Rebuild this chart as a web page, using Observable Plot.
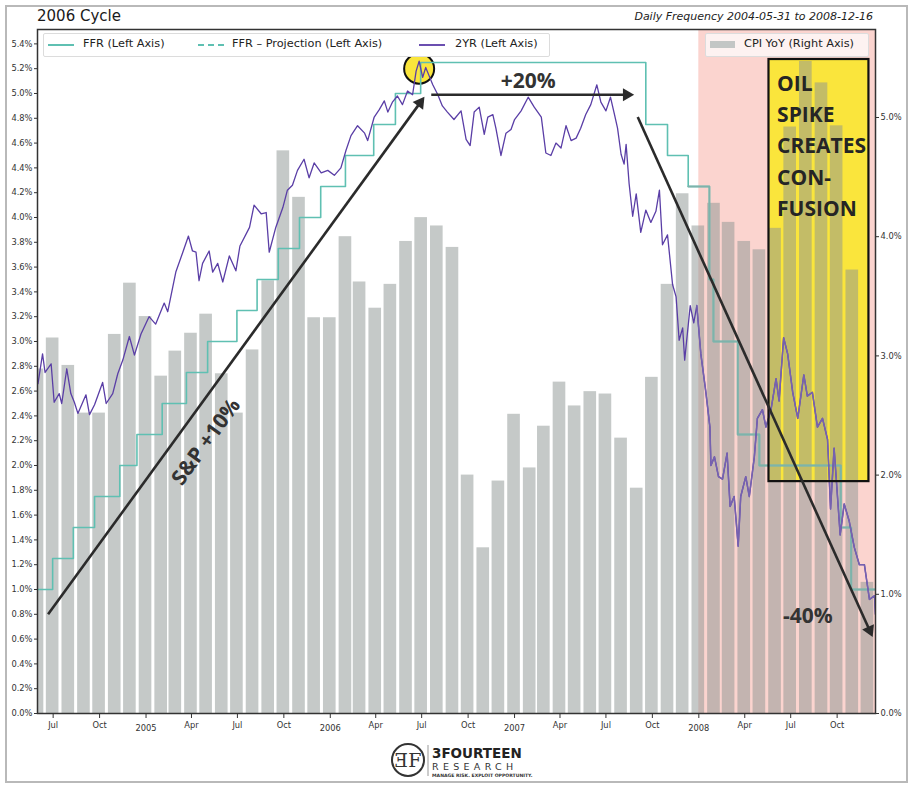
<!DOCTYPE html>
<html><head><meta charset="utf-8">
<script src="https://cdn.jsdelivr.net/npm/d3@7"></script>
<script src="https://cdn.jsdelivr.net/npm/@observablehq/plot@0.6"></script>
<style>
body{margin:0;background:#fff;}
#wrap{position:relative;width:919px;height:795px;overflow:hidden;font-family:"DejaVu Sans",sans-serif;color:#222;}
#wrap > svg{position:absolute;left:0;top:0;}
.abs{position:absolute;white-space:nowrap;}
#border{left:5px;top:5px;width:899px;height:774px;border:2px solid #b9b9b9;}
#title{left:37px;top:7px;font-size:15px;color:#1a1a1a;}
#sub{right:46px;top:10px;font-size:11px;font-style:italic;color:#222;}
.leg{top:33px;height:22px;border:1px solid #dcdcdc;border-radius:2px;font-size:11.3px;color:#222;}
.leg span{position:absolute;top:3px;}
.sw{position:absolute;top:10px;width:26px;height:0;border-top:2px solid #5fc0b2;}
#logo{left:388px;top:740px;width:160px;height:42px;}
</style></head><body>
<div id="wrap"></div>
<script>
// ---------------- data ----------------
const cpiMonths = [
 "2004-05","2004-06","2004-07","2004-08","2004-09","2004-10","2004-11","2004-12",
 "2005-01","2005-02","2005-03","2005-04","2005-05","2005-06","2005-07","2005-08","2005-09","2005-10","2005-11","2005-12",
 "2006-01","2006-02","2006-03","2006-04","2006-05","2006-06","2006-07","2006-08","2006-09","2006-10","2006-11","2006-12",
 "2007-01","2007-02","2007-03","2007-04","2007-05","2007-06","2007-07","2007-08","2007-09","2007-10","2007-11","2007-12",
 "2008-01","2008-02","2008-03","2008-04","2008-05","2008-06","2008-07","2008-08","2008-09","2008-10","2008-11"];
const cpiValues = [
 2.89,3.15,2.92,2.52,2.52,3.18,3.61,3.33,
 2.83,3.04,3.19,3.35,2.85,2.52,3.05,3.63,4.72,4.33,3.32,3.32,
 4.00,3.62,3.40,3.60,3.96,4.16,4.09,3.91,2.00,1.39,1.95,2.51,
 2.06,2.41,2.78,2.58,2.70,2.68,2.31,1.89,2.82,3.60,4.36,4.09,
 4.28,4.12,3.96,3.89,4.07,4.92,5.47,5.29,4.93,3.72,1.10];

const ffrDates = ["2004-05-31","2004-06-30","2004-08-10","2004-09-21","2004-11-10","2004-12-14",
 "2005-02-02","2005-03-22","2005-05-03","2005-06-30","2005-08-09","2005-09-20","2005-11-01","2005-12-13",
 "2006-01-31","2006-03-28","2006-05-10","2006-06-29","2007-09-18","2007-10-31","2007-12-11",
 "2008-01-22","2008-01-30","2008-03-18","2008-04-30","2008-10-08","2008-10-29","2008-12-16"];
const ffrValues = [1.00,1.25,1.50,1.75,2.00,2.25,2.50,2.75,3.00,3.25,3.50,3.75,4.00,4.25,
 4.50,4.75,5.00,5.25,4.75,4.50,4.25,3.50,3.00,2.25,2.00,1.50,1.00,1.00];

const y2Dates = [
 "2004-06-01","2004-06-10","2004-06-15","2004-06-27","2004-07-03","2004-07-13","2004-07-18","2004-07-28","2004-08-05","2004-08-12","2004-08-19","2004-09-04","2004-09-11","2004-09-21","2004-10-07","2004-10-14","2004-10-27","2004-11-06","2004-11-16","2004-11-29","2004-12-09","2004-12-22",
 "2005-01-07","2005-01-20","2005-02-06","2005-02-13","2005-02-23","2005-03-01","2005-03-14","2005-03-26","2005-04-03","2005-04-10","2005-04-16","2005-04-23","2005-05-06","2005-05-13","2005-05-23","2005-06-02","2005-06-15","2005-06-28","2005-07-06","2005-07-25","2005-08-03","2005-08-17","2005-08-27","2005-09-02","2005-09-15","2005-09-29","2005-10-08","2005-10-18","2005-10-28","2005-11-10","2005-11-20","2005-11-30","2005-12-14","2005-12-27",
 "2006-01-09","2006-01-22","2006-02-01","2006-02-11","2006-02-24","2006-03-10","2006-03-16","2006-03-29","2006-04-08","2006-04-18","2006-04-25","2006-05-04","2006-05-14","2006-05-24","2006-06-03","2006-06-13","2006-06-20","2006-06-26","2006-07-03","2006-07-09","2006-07-16","2006-07-23","2006-08-02","2006-08-11","2006-08-21","2006-09-03","2006-09-17","2006-09-27","2006-10-05","2006-10-13","2006-10-23","2006-11-02","2006-11-09","2006-11-19","2006-11-25","2006-12-05","2006-12-15","2006-12-25",
 "2007-01-01","2007-01-14","2007-01-28","2007-02-09","2007-02-23","2007-03-04","2007-03-14","2007-03-24","2007-04-03","2007-04-13","2007-04-23","2007-05-03","2007-05-12","2007-05-22","2007-06-01","2007-06-13","2007-06-21","2007-07-01","2007-07-10","2007-07-18","2007-07-24","2007-07-31","2007-08-06","2007-08-10","2007-08-16","2007-08-23","2007-08-30","2007-09-08","2007-09-18","2007-09-28","2007-10-08","2007-10-15","2007-10-21","2007-10-31","2007-11-10","2007-11-17","2007-11-23","2007-11-30","2007-12-04","2007-12-15","2007-12-22","2007-12-28",
 "2008-01-05","2008-01-15","2008-01-23","2008-01-25","2008-02-01","2008-02-09","2008-02-17","2008-02-26","2008-03-03","2008-03-11","2008-03-19","2008-03-24","2008-04-03","2008-04-10","2008-04-20","2008-04-26","2008-05-06","2008-05-13","2008-05-23","2008-06-02","2008-06-08","2008-06-17","2008-06-25","2008-07-05","2008-07-15","2008-07-27","2008-08-03","2008-08-13","2008-08-23","2008-09-02","2008-09-12","2008-09-18","2008-09-25","2008-10-07","2008-10-15","2008-10-25","2008-11-04","2008-11-14","2008-11-24","2008-12-04","2008-12-14","2008-12-16"];
const y2Values = [
 2.66,2.90,2.75,2.82,2.51,2.58,2.50,2.78,2.58,2.51,2.42,2.57,2.41,2.49,2.67,2.50,2.58,2.74,2.85,3.04,2.89,3.06,
 3.20,3.14,3.31,3.24,3.44,3.56,3.71,3.85,3.73,3.72,3.49,3.63,3.73,3.56,3.63,3.48,3.69,3.57,3.77,3.92,4.10,4.03,4.04,3.72,3.92,4.08,4.22,4.26,4.38,4.47,4.32,4.44,4.36,4.38,
 4.34,4.40,4.54,4.66,4.74,4.68,4.62,4.81,4.87,4.94,4.85,4.93,4.98,4.91,5.02,4.99,5.18,5.26,5.13,5.21,5.14,5.07,4.99,4.90,4.85,4.79,4.86,4.63,4.58,4.85,4.89,4.67,4.81,4.83,4.72,4.50,4.68,4.71,
 4.79,4.86,4.97,4.89,4.81,4.52,4.50,4.60,4.56,4.74,4.62,4.64,4.72,4.83,4.91,5.07,4.93,4.86,4.97,4.83,4.72,4.51,4.43,4.59,4.27,4.01,4.19,3.88,4.06,3.96,4.05,4.22,3.78,3.86,3.46,3.36,3.01,3.11,2.85,3.29,3.15,3.29,
 2.90,2.59,2.31,2.00,2.07,1.91,1.89,2.10,1.67,1.75,1.35,1.75,1.91,1.75,2.07,2.38,2.45,2.31,2.45,2.70,2.52,3.03,2.90,2.59,2.38,2.73,2.56,2.59,2.31,2.38,2.21,1.65,2.14,1.44,1.69,1.55,1.34,1.20,1.20,0.92,0.95,0.80];

const leftTicks = d3.range(0, 28).map(i => i / 5);        // 0.0% .. 5.4%
const rightTicks = [0, 1, 2, 3, 4, 5];                      // 0.0% .. 5.0%
const monthTicks = ["2004-07-01","2004-10-01","2005-04-01","2005-07-01","2005-10-01","2006-04-01","2006-07-01","2006-10-01","2007-04-01","2007-07-01","2007-10-01","2008-04-01","2008-07-01","2008-10-01"];
const yearTicks = ["2005-01-01","2006-01-01","2007-01-01","2008-01-01"];

const shadeRange = ["2008-01-01","2008-12-31"];
const oilBox = {x1:"2008-05-19", x2:"2008-12-03", y1:1.87, y2:5.274};
const peakCircle = {x:"2006-06-26", y:5.20};
const arrowStarts = [["2004-06-21",0.80],["2006-07-20",4.99],["2007-09-02",4.81]];
const arrowEnds   = [["2006-07-06",4.97],["2007-08-25",4.99],["2008-12-10",0.62]];
const labels = [
 {x:"2005-04-30", y:2.19, text:"S&P +10%", rotate:-54},
 {x:"2007-01-28", y:5.10, text:"+20%", rotate:0},
 {x:"2008-08-04", y:0.786, text:"-40%", rotate:0}];
const oilText = {x:"2008-06-04", y:5.20, text:"OIL\nSPIKE\nCREATES\nCON-\nFUSION"};

// ---------------- build ----------------
const parse = d3.utcParse("%Y-%m-%d");
const W = 919, H = 795, mL = 37, mR = 44, mT = 29, mB = 82;
const xDomain = [parse("2004-05-31"), parse("2008-12-16")];
const yMax = 5.516;
const k = 119.2 / 124; // right-axis percent -> left-axis units
const shadeStart = parse(shadeRange[0]);

const xs = d3.scaleUtc(xDomain, [mL, W - mR]);
const ys = d3.scaleLinear([0, yMax], [H - mB, mT]);

const bars = cpiMonths.map((m, i) => {
  const end = d3.utcDay.offset(d3.utcMonth.offset(parse(m + "-01"), 1), -1);
  return {x1: d3.utcHour.offset(end, -300), x2: d3.utcHour.offset(end, 300), v: cpiValues[i] * k};
});
const ffr = ffrDates.map((d, i) => ({date: parse(d), v: ffrValues[i]}));
const y2 = y2Dates.map((d, i) => ({date: parse(d), v: y2Values[i]}));
// portions inside the shaded 2008 band (start from the last point before it)
const tail = arr => arr.slice(Math.max(0, arr.findIndex(d => d.date >= shadeStart) - 1));
const ffrTail = tail(ffr), y2Tail = tail(y2);

const shafts = [], heads = [];
arrowStarts.forEach((s, i) => {
  const e = arrowEnds[i];
  const p0 = [xs(parse(s[0])), ys(s[1])], p1 = [xs(parse(e[0])), ys(e[1])];
  const dx = p1[0] - p0[0], dy = p1[1] - p0[1], L = Math.hypot(dx, dy);
  const ux = dx / L, uy = dy / L;
  const c = [p1[0] - 7 * ux, p1[1] - 7 * uy];
  const cx = xs.invert(c[0]), cy = ys.invert(c[1]);
  shafts.push({x1: parse(s[0]), y1: s[1], x2: cx, y2: cy});
  heads.push({x: cx, y: cy, rot: Math.atan2(uy, ux) * 180 / Math.PI + 90});
});

const box = {x1: parse(oilBox.x1), x2: parse(oilBox.x2), y1: oilBox.y1, y2: oilBox.y2};
const ink = "#2b2b2b";

const chart = Plot.plot({
  width: W, height: H, marginLeft: mL, marginRight: mR, marginTop: mT, marginBottom: mB,
  x: {type: "utc", domain: xDomain},
  y: {domain: [0, yMax]},
  style: {fontFamily: "DejaVu Sans", fontSize: "8.3px", color: "#333", background: "transparent"},
  marks: [
    Plot.rect([{x1: shadeStart, x2: parse(shadeRange[1])}], {x1: "x1", x2: "x2", y1: 0, y2: yMax, fill: "#fbd4cf", clip: true}),
    Plot.rect([box], {x1: "x1", x2: "x2", y1: "y1", y2: "y2", fill: "#fae53c"}),
    Plot.rectY(bars, {x1: "x1", x2: "x2", y1: 0, y2: "v", fill: "#8b9391", fillOpacity: 0.5, clip: true}),
    Plot.dot([peakCircle], {x: d => parse(d.x), y: "y", r: 15, fill: "#fae53c", stroke: "#111", strokeWidth: 2}),
    Plot.line(ffr, {x: "date", y: "v", curve: "step-after", stroke: "#5fc0b2", strokeWidth: 1.6, clip: true}),
    Plot.line(ffrTail, {x: "date", y: "v", curve: "step-after", stroke: "#7db3ab", strokeWidth: 1.8, clip: true}),
    Plot.line(y2, {x: "date", y: "v", stroke: "#5a3ea6", strokeWidth: 1.3, clip: true}),
    Plot.line(y2Tail, {x: "date", y: "v", stroke: "#7662b0", strokeWidth: 1.5, clip: true}),
    Plot.rect([box], {x1: "x1", x2: "x2", y1: "y1", y2: "y2", fill: "none", stroke: "#111", strokeWidth: 2.2}),
    Plot.text([oilText], {x: d => parse(d.x), y: "y", text: "text", textAnchor: "start", lineAnchor: "top", lineHeight: 1.49,
      fontSize: 21, fontWeight: 700, fontFamily: "Open Sans", fill: "#252525"}),
    Plot.link(shafts, {x1: "x1", y1: "y1", x2: "x2", y2: "y2", stroke: ink, strokeWidth: 2.6}),
    Plot.dot(heads, {x: "x", y: "y", symbol: "triangle", r: 4.8, fill: ink, rotate: "rot"}),
    Plot.text(labels, {x: d => parse(d.x), y: "y", text: "text", rotate: "rotate", fontSize: 21, fontWeight: 700,
      fontFamily: "Open Sans", fill: "#333"}),
    Plot.axisY({anchor: "left", ticks: leftTicks, tickFormat: d => d.toFixed(1) + "%", tickSize: 3, tickPadding: 2, label: null}),
    Plot.axisY({anchor: "right", ticks: rightTicks.map(t => t * k), tickFormat: d => (d / k).toFixed(1) + "%", tickSize: 3, tickPadding: 2, label: null}),
    Plot.axisX({ticks: monthTicks.map(parse), tickFormat: d3.utcFormat("%b"), tickSize: 5, tickPadding: 4, label: null}),
    Plot.axisX({ticks: yearTicks.map(parse), tickFormat: d3.utcFormat("%Y"), tickSize: 5, tickPadding: 7, label: null}),
    Plot.frame({stroke: "#333", strokeWidth: 1.5})
  ]
});

const wrap = document.getElementById("wrap");
wrap.appendChild(chart);
wrap.insertAdjacentHTML("beforeend", `
<div class="abs" id="border"></div>
<div class="abs" id="title">2006 Cycle</div>
<div class="abs" id="sub">Daily Frequency 2004-05-31 to 2008-12-16</div>
<div class="abs leg" style="left:43px;width:505px;background:#fff;">
  <div class="sw" style="left:4px;"></div><span style="left:39px;">FFR (Left Axis)</span>
  <div class="sw" style="left:154px;border-top:2px dashed #5fc0b2;"></div><span style="left:188px;">FFR – Projection (Left Axis)</span>
  <div class="sw" style="left:375px;border-top-color:#6b4fb0;"></div><span style="left:411px;">2YR (Left Axis)</span>
</div>
<div class="abs leg" style="left:705px;width:162px;background:#fdf2f1;">
  <div class="sw" style="left:4px;top:7px;height:7px;border:none;background:#c3c6c5;width:25px;"></div><span style="left:38px;">CPI YoY (Right Axis)</span>
</div>
<div class="abs" id="logo">
  <svg width="160" height="42" style="position:absolute;left:0;top:0">
    <circle cx="20" cy="20" r="16" fill="none" stroke="#333" stroke-width="2"/>
    <text x="20" y="27" text-anchor="middle" font-family="DejaVu Serif" font-size="19" fill="#333">ƎF</text>
    <line x1="40" y1="5" x2="40" y2="36" stroke="#999" stroke-width="1"/>
    <text x="44" y="18" font-family="DejaVu Sans" font-weight="bold" font-size="13.5" fill="#222">3FOURTEEN</text>
    <text x="44" y="30" font-family="DejaVu Sans" font-size="9.5" letter-spacing="4.3" fill="#333">RESEARCH</text>
    <text x="44" y="37" font-family="DejaVu Sans" font-weight="bold" font-size="4.6" fill="#333">MANAGE RISK. EXPLOIT OPPORTUNITY.</text>
  </svg>
</div>`);
</script>
</body></html>
